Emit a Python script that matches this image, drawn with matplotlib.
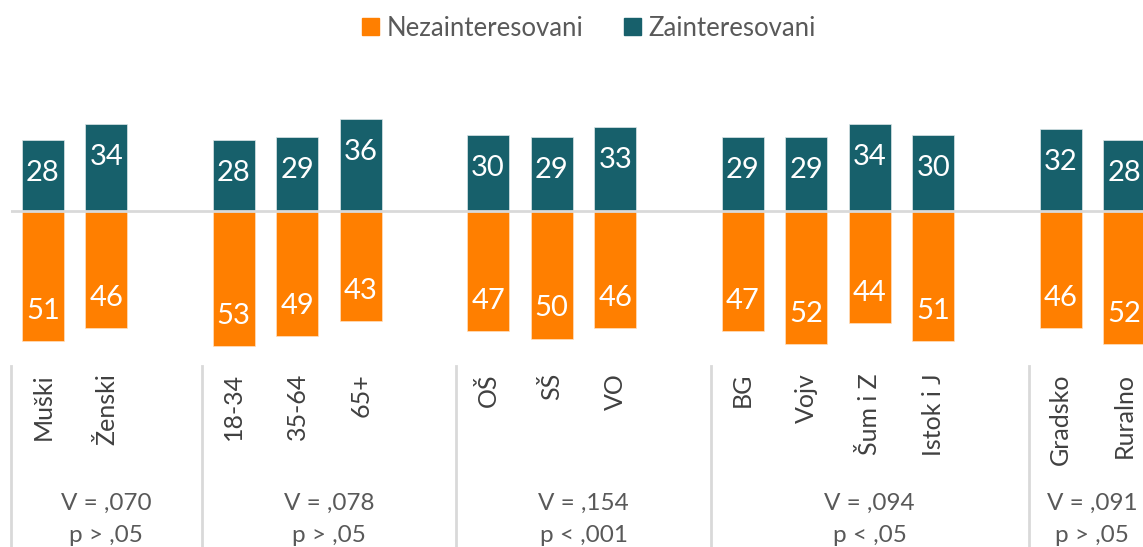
import matplotlib
matplotlib.use('Agg')
import matplotlib.pyplot as plt
import matplotlib.transforms as mtransforms
from matplotlib.patches import Patch

plt.rcParams['font.family'] = ['Lato', 'DejaVu Sans']

WIDTH = 1143
HEIGHT = 547
DPI = 100

# data
categories = ['Muški', 'Ženski', '18-34', '35-64', '65+', 'OŠ', 'SŠ', 'VO',
              'BG', 'Vojv', 'Šum i Z', 'Istok i J', 'Gradsko', 'Ruralno']
slots = [0, 1, 3, 4, 5, 7, 8, 9, 11, 12, 13, 14, 16, 17]
interested = [28, 34, 28, 29, 36, 30, 29, 33, 29, 29, 34, 30, 32, 28]
not_interested = [51, 46, 53, 49, 43, 47, 50, 46, 47, 52, 44, 51, 46, 52]
group_bounds = [(-0.5, 2.5), (2.5, 6.5), (6.5, 10.5), (10.5, 15.5), (15.5, 17.5)]
group_v = ['V = ,070', 'V = ,078', 'V = ,154', 'V = ,094', 'V = ,091']
group_p = ['p > ,05', 'p > ,05', 'p < ,001', 'p < ,05', 'p > ,05']

ORANGE = '#FF7F00'
TEAL = '#17606B'
TXT = '#595959'

fig = plt.figure(figsize=(WIDTH / DPI, HEIGHT / DPI), dpi=DPI)

# axes in pixel terms: x from 11 to 1156 (chart is cut at the right edge)
ax_left, ax_right = 11, 1156
ax_top, ax_bot = 60, 355
ax = fig.add_axes([ax_left / WIDTH, 1 - ax_bot / HEIGHT,
                   (ax_right - ax_left) / WIDTH, (ax_bot - ax_top) / HEIGHT])

px_per_unit = 2.55
zero_px = 211
ax.set_ylim(-(ax_bot - zero_px) / px_per_unit, (zero_px - ax_top) / px_per_unit)
ax.set_xlim(-0.5, 17.5)

neg = [-v for v in not_interested]
ax.bar(slots, interested, width=0.66, color=TEAL, edgecolor='#dde6e8', linewidth=0.5, zorder=2)
ax.bar(slots, neg, width=0.66, color=ORANGE, edgecolor='#ffe0c0', linewidth=0.5, zorder=2)
ax.axhline(0, color='#d9d9d9', lw=2, zorder=3)

for x, v in zip(slots, interested):
    ax.text(x, v - 33 / px_per_unit, str(v), ha='center', va='center', color='white',
            fontsize=21, zorder=4)
for x, v in zip(slots, not_interested):
    ax.text(x, -v + 30 / px_per_unit, str(v), ha='center', va='center', color='white',
            fontsize=21, zorder=4)

for s in ax.spines.values():
    s.set_visible(False)
ax.set_yticks([])
ax.set_xticks(slots)
ax.set_xticklabels(categories, rotation=90, fontsize=18, color='#404040')
ax.tick_params(axis='x', length=0, pad=13)

# group separators and stats
trans = mtransforms.blended_transform_factory(ax.transData, ax.transAxes)
h = ax_bot - ax_top
def yfrac(px):
    return -(px - ax_bot) / h

for (a, b), v, p in zip(group_bounds, group_v, group_p):
    ax.plot([a, a], [yfrac(366), yfrac(HEIGHT + 5)], color='#d9d9d9', lw=2,
            transform=trans, clip_on=False)
    c = (a + b) / 2
    ax.text(c, yfrac(503), v, transform=trans, ha='center', va='center',
            fontsize=17.5, color=TXT)
    ax.text(c, yfrac(535), p, transform=trans, ha='center', va='center',
            fontsize=17.5, color=TXT)

handles = [Patch(color=ORANGE, label='Nezainteresovani'),
           Patch(color=TEAL, label='Zainteresovani')]
fig.legend(handles=handles, loc='center', bbox_to_anchor=(589 / WIDTH, 1 - 28 / HEIGHT),
           ncol=2, frameon=False, fontsize=18.5, labelcolor=TXT,
           handlelength=0.65, handleheight=0.65, handletextpad=0.3, columnspacing=1.6)

fig.savefig('out.png', dpi=DPI)
